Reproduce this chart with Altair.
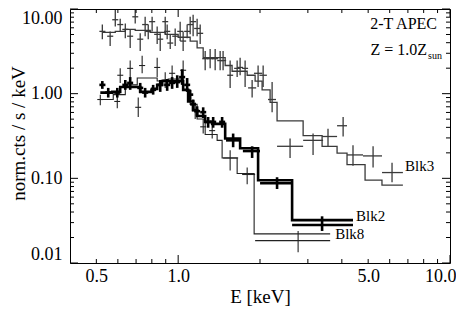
import altair as alt
import pandas as pd

FONT = "Liberation Serif"

# ---------------- data ----------------
# Blk3: model step function (bin edges in keV, model values)
blk3_model_edges = [0.526, 0.587, 0.639, 0.695, 0.789, 0.896, 1.0, 1.107, 1.174, 1.236, 1.489, 1.579,
                    1.794, 1.919, 2.036, 2.179, 2.311, 2.882, 3.384, 3.842, 4.18, 4.87, 5.62, 6.71]
blk3_model_vals = [5.30, 5.44, 5.74, 5.59, 5.30, 5.02, 4.64, 4.18, 3.47, 2.66, 2.15, 1.84,
                   1.65, 1.41, 1.11, 0.79, 0.477, 0.320, 0.239, 0.199, 0.145, 0.095, 0.083]
# Blk3: data points
blk3_E = [0.526, 0.562, 0.587, 0.612, 0.639, 0.666, 0.695, 0.725, 0.756, 0.776, 0.802, 0.837, 0.859, 0.896,
          0.911, 0.935, 0.975, 1.017, 1.043, 1.079, 1.107, 1.135, 1.174, 1.205, 1.257, 1.311, 1.368, 1.427,
          1.463, 1.553, 1.648, 1.690, 1.763, 1.871, 1.968, 2.054, 2.216, 2.58, 3.135, 3.558, 4.044, 4.397,
          5.212, 6.12]
blk3_v = [5.44, 4.77, 7.47, 6.55, 5.74, 4.77, 8.09, 4.40, 6.55, 5.44, 7.09, 5.02, 4.40, 7.09,
          5.44, 3.96, 4.77, 5.44, 4.18, 5.44, 6.55, 7.09, 5.89, 5.16, 2.59, 2.59, 2.59, 2.46,
          2.46, 1.65, 1.99, 2.04, 1.99, 1.17, 1.74, 1.65, 0.853, 0.239, 0.281, 0.312, 0.418, 0.189,
          0.184, 0.117]
blk3_vlo = [4.40, 3.66, 6.21, 5.44, 4.52, 3.47, 6.73, 3.20, 4.77, 4.40, 5.44, 3.86, 3.20, 5.02,
            4.40, 3.38, 3.66, 4.18, 3.20, 4.52, 5.02, 4.77, 4.77, 3.86, 1.89, 1.99, 1.89, 1.89,
            1.89, 1.17, 1.57, 1.65, 1.20, 0.90, 1.20, 1.20, 0.605, 0.174, 0.189, 0.239, 0.312, 0.141,
            0.134, 0.090]
blk3_vhi = [6.55, 5.44, 9.74, 7.67, 6.73, 5.74, 9.74, 5.16, 8.09, 6.55, 8.09, 6.21, 5.16, 8.09,
            6.55, 5.02, 5.89, 7.09, 5.44, 6.55, 8.09, 8.53, 7.67, 6.55, 3.20, 3.38, 3.38, 3.20,
            3.20, 2.46, 2.46, 2.66, 2.46, 1.45, 2.15, 2.15, 1.37, 0.296, 0.338, 0.386, 0.530, 0.246,
            0.239, 0.153]
blk3_Elo = [0.513, 0.548, 0.572, 0.597, 0.623, 0.649, 0.678, 0.707, 0.737, 0.757, 0.782, 0.816, 0.838, 0.874,
            0.888, 0.912, 0.951, 0.992, 1.017, 1.052, 1.080, 1.107, 1.145, 1.175, 1.226, 1.279, 1.334, 1.392,
            1.427, 1.515, 1.607, 1.648, 1.719, 1.808, 1.90, 1.99, 2.14, 2.311, 2.882, 3.384, 3.842, 4.18,
            4.786, 5.623]
blk3_Ehi = [0.540, 0.577, 0.602, 0.628, 0.656, 0.683, 0.713, 0.744, 0.776, 0.796, 0.823, 0.859, 0.881, 0.919,
            0.935, 0.959, 1.000, 1.043, 1.070, 1.107, 1.136, 1.164, 1.204, 1.236, 1.289, 1.345, 1.403, 1.463,
            1.501, 1.593, 1.690, 1.733, 1.808, 1.936, 2.04, 2.12, 2.29, 2.882, 3.413, 3.842, 4.18, 4.786,
            5.623, 6.71]

# Blk2: model step function
blk2_model_edges = [0.517, 0.572, 0.612, 0.725, 0.802, 0.837, 0.873, 1.043, 1.088, 1.135, 1.174, 1.257,
                    1.334, 1.489, 1.690, 1.968, 2.625, 4.397]
blk2_model_vals = [1.03, 1.05, 1.20, 1.05, 1.14, 1.27, 1.41, 1.11, 0.809, 0.638, 0.544, 0.464,
                   0.44, 0.296, 0.227, 0.0948, 0.0321]
# Blk2: data points
blk2_E = [0.526, 0.553, 0.597, 0.639, 0.666, 0.725, 0.756, 0.809, 0.859, 0.911, 0.950, 0.992, 1.034,
          1.079, 1.107, 1.135, 1.174, 1.236, 1.289, 1.345, 1.451, 1.593, 1.871, 2.311, 3.384]
blk2_v = [1.27, 1.03, 1.03, 1.27, 1.34, 1.17, 1.03, 1.11, 1.27, 1.27, 1.34, 1.37, 1.57,
          1.27, 0.974, 0.748, 0.621, 0.605, 0.464, 0.464, 0.464, 0.281, 0.210, 0.0876, 0.0281]
blk2_vlo = [1.14, 0.90, 0.90, 1.11, 1.11, 1.03, 0.90, 0.974, 1.05, 1.08, 1.14, 1.17, 1.27,
            1.05, 0.809, 0.621, 0.544, 0.516, 0.396, 0.396, 0.396, 0.233, 0.174, 0.0748, 0.0239]
blk2_vhi = [1.41, 1.17, 1.17, 1.45, 1.57, 1.34, 1.17, 1.27, 1.45, 1.49, 1.57, 1.65, 1.94,
            1.53, 1.11, 0.853, 0.709, 0.690, 0.530, 0.530, 0.530, 0.338, 0.239, 0.103, 0.0356]
blk2_Elo = [0.513, 0.539, 0.582, 0.623, 0.649, 0.707, 0.737, 0.789, 0.838, 0.888, 0.926, 0.967, 1.008,
            1.052, 1.080, 1.107, 1.145, 1.205, 1.257, 1.312, 1.415, 1.50, 1.73, 2.001, 2.625]
blk2_Ehi = [0.540, 0.567, 0.612, 0.656, 0.683, 0.744, 0.776, 0.830, 0.881, 0.935, 0.975, 1.018, 1.061,
            1.107, 1.136, 1.164, 1.204, 1.268, 1.322, 1.380, 1.489, 1.69, 2.00, 2.625, 4.397]

# Blk8: model step function
blk8_model_edges = [0.508, 0.577, 0.639, 0.707, 0.837, 0.919, 1.043, 1.107, 1.174, 1.257, 1.391, 1.451,
                    1.648, 1.903, 3.623]
blk8_model_vals = [0.853, 0.974, 1.27, 1.53, 1.41, 1.49, 1.11, 0.748, 0.502, 0.329, 0.281, 0.174,
                   0.114, 0.0221]
# Blk8: data points
blk8_E = [0.517, 0.597, 0.612, 0.666, 0.713, 0.737, 0.837, 0.896, 0.950, 1.043, 1.155, 1.236, 1.334,
          1.553, 1.794, 2.762]
blk8_v = [0.853, 0.809, 1.65, 1.99, 0.690, 2.15, 2.04, 1.45, 1.74, 1.89, 0.655, 0.406, 0.366,
          0.174, 0.111, 0.0184]
blk8_vlo = [0.728, 0.672, 1.34, 1.53, 0.530, 1.74, 1.57, 1.17, 1.37, 1.45, 0.502, 0.338, 0.296,
            0.124, 0.0853, 0.0134]
blk8_vhi = [0.974, 0.974, 1.99, 2.46, 0.90, 2.81, 2.66, 1.79, 2.15, 2.46, 0.788, 0.502, 0.440,
            0.215, 0.134, 0.0239]
blk8_Elo = [0.504, 0.582, 0.597, 0.649, 0.695, 0.718, 0.816, 0.874, 0.926, 1.017, 1.126, 1.205, 1.30,
            1.463, 1.719, 1.919]
blk8_Ehi = [0.530, 0.612, 0.628, 0.683, 0.731, 0.756, 0.859, 0.919, 0.975, 1.070, 1.185, 1.268, 1.368,
            1.662, 1.919, 3.623]

# curve labels
label_text = ["Blk3", "Blk2", "Blk8"]
label_E = [6.83, 4.51, 3.78]
label_v = [0.141, 0.0356, 0.0221]

# axis ticks / labels
x_label_vals = [0.5, 1.0, 5.0, 10.0]
y_label_vals = [0.01, 0.1, 1.0, 10.0]
x_major = [1.0, 10.0]
x_minor = [0.5, 0.6, 0.7, 0.8, 0.9, 2, 3, 4, 5, 6, 7, 8, 9]
y_major = [0.01, 0.1, 1.0, 10.0]
y_minor = [0.02, 0.03, 0.04, 0.05, 0.06, 0.07, 0.08, 0.09,
           0.2, 0.3, 0.4, 0.5, 0.6, 0.7, 0.8, 0.9,
           2, 3, 4, 5, 6, 7, 8, 9]

W, H = 380, 254

# ---------------- scales / axes ----------------
xs = alt.Scale(type="log", domain=[0.4, 10], nice=False)
ys = alt.Scale(type="log", domain=[0.01, 10], nice=False)

x_axis = alt.Axis(values=x_label_vals, labelExpr="format(datum.value, '.1f')", title="E [keV]",
                  ticks=False, domain=False, grid=False, labelFont=FONT, labelFontSize=18,
                  labelColor="black", labelPadding=4, labelFlush=1, labelFlushOffset=6,
                  titleFont=FONT, titleFontSize=19, titleFontWeight="normal", titleColor="black",
                  titleY=39, titleBaseline="alphabetic")
y_axis = alt.Axis(values=y_label_vals, labelExpr="format(datum.value, '.2f')", title="norm.cts / s / keV",
                  ticks=False, domain=False, grid=False, labelFont=FONT, labelFontSize=18,
                  labelColor="black", labelPadding=8, labelFlush=1,
                  titleFont=FONT, titleFontSize=19, titleFontWeight="normal", titleColor="black",
                  titleX=-46, titleY=124, titleBaseline="alphabetic")


def X(f):
    return alt.X(f, type="quantitative", scale=xs, axis=x_axis)


def Y(f):
    return alt.Y(f, type="quantitative", scale=ys, axis=y_axis)


def step_df(edges, vals):
    return pd.DataFrame({"E": edges, "v": list(vals) + [vals[-1]]})


def pts_df(E, v, vlo, vhi, elo, ehi):
    return pd.DataFrame({"E": E, "v": v, "vlo": vlo, "vhi": vhi, "elo": elo, "ehi": ehi})


def spectrum(edges, vals, pts, color, width):
    model = alt.Chart(step_df(edges, vals)).mark_line(
        interpolate="step-after", color=color, strokeWidth=width).encode(x=X("E"), y=Y("v"))
    hbar = alt.Chart(pts).mark_rule(color=color, strokeWidth=width).encode(
        x=X("elo"), x2="ehi", y=Y("v"))
    vbar = alt.Chart(pts).mark_rule(color=color, strokeWidth=width).encode(
        x=X("E"), y=Y("vlo"), y2="vhi")
    return [model, hbar, vbar]


layers = []
layers += spectrum(blk3_model_edges, blk3_model_vals,
                   pts_df(blk3_E, blk3_v, blk3_vlo, blk3_vhi, blk3_Elo, blk3_Ehi), "#3a3a3a", 1.3)
layers += spectrum(blk8_model_edges, blk8_model_vals,
                   pts_df(blk8_E, blk8_v, blk8_vlo, blk8_vhi, blk8_Elo, blk8_Ehi), "#222222", 1.1)
layers += spectrum(blk2_model_edges, blk2_model_vals,
                   pts_df(blk2_E, blk2_v, blk2_vlo, blk2_vhi, blk2_Elo, blk2_Ehi), "black", 2.6)

# inward ticks on all four sides
ymaj = pd.DataFrame({"t": y_major})
ymin = pd.DataFrame({"t": y_minor})
xmaj = pd.DataFrame({"t": x_major})
xmin = pd.DataFrame({"t": x_minor})
tk = dict(color="black", strokeWidth=1)
for df, L in ((ymaj, 8), (ymin, 4)):
    layers.append(alt.Chart(df).mark_rule(**tk).encode(y=Y("t"), x=alt.value(0), x2=alt.value(L)))
    layers.append(alt.Chart(df).mark_rule(**tk).encode(y=Y("t"), x=alt.value(W), x2=alt.value(W - L)))
for df, L in ((xmaj, 8), (xmin, 4)):
    layers.append(alt.Chart(df).mark_rule(**tk).encode(x=X("t"), y=alt.value(H), y2=alt.value(H - L)))
    layers.append(alt.Chart(df).mark_rule(**tk).encode(x=X("t"), y=alt.value(0), y2=alt.value(L)))

# curve labels
lab = pd.DataFrame({"E": label_E, "v": label_v, "t": label_text})
layers.append(alt.Chart(lab).mark_text(align="left", baseline="middle", font=FONT, fontSize=15,
                                       color="black").encode(x=X("E"), y=Y("v"), text="t:N"))

# annotation
layers.append(alt.Chart(pd.DataFrame({"t": ["2-T APEC"]})).mark_text(
    align="right", baseline="alphabetic", font=FONT, fontSize=16, color="black").encode(
    text="t:N", x=alt.value(367), y=alt.value(20)))
layers.append(alt.Chart(pd.DataFrame({"t": ["Z = 1.0Z"]})).mark_text(
    align="right", baseline="alphabetic", font=FONT, fontSize=16, color="black").encode(
    text="t:N", x=alt.value(357), y=alt.value(46)))
layers.append(alt.Chart(pd.DataFrame({"t": ["sun"]})).mark_text(
    align="left", baseline="alphabetic", font=FONT, fontSize=10, color="black").encode(
    text="t:N", x=alt.value(358), y=alt.value(50)))

chart = alt.layer(*layers).properties(
    width=W, height=H,
    padding={"left": 62, "top": 1, "right": 6, "bottom": 46},
    autosize=alt.AutoSizeParams(type="none"),
    background="white",
).configure_view(stroke="black", strokeWidth=1)

chart.save("out.html", embed_options={"renderer": "svg", "actions": False})
